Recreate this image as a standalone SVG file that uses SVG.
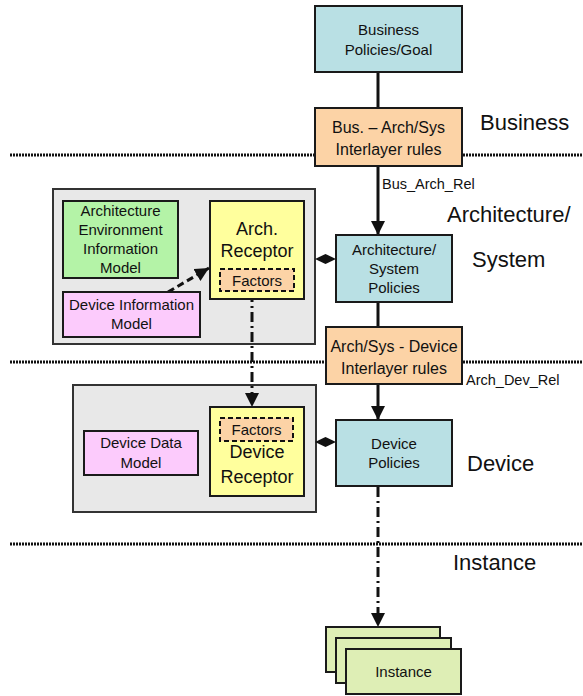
<svg xmlns="http://www.w3.org/2000/svg" width="583" height="696" viewBox="0 0 583 696">
  <style>
    text { font-family: "Liberation Sans", Arial, sans-serif; fill: #111; }
    .box { stroke: #1a1a1a; stroke-width: 2; }
    .policy { fill: #b9e0e4; }
    .rules { fill: #fcd3a6; }
    .env { fill: #b4f3a7; }
    .recep { fill: #ffff9d; }
    .pink { fill: #fccbfc; }
    .group { fill: #e8e8e8; stroke: #333; stroke-width: 2; }
    .factors { fill: #fcd3a6; stroke: #111; stroke-width: 2; stroke-dasharray: 5 3; }
    .inst { fill: #deeeb5; }
    .t15 { font-size: 15px; text-anchor: middle; }
    .t16 { font-size: 16px; text-anchor: middle; }
    .t18 { font-size: 18px; text-anchor: middle; }
    .layer { font-size: 22px; }
    .rel { font-size: 14.5px; }
    .sep { stroke: #111; stroke-width: 3; stroke-dasharray: 2 1; fill: none; }
    .solid { stroke: #111; stroke-width: 3; fill: none; }
    .dashdot { stroke: #111; stroke-width: 3; fill: none; stroke-dasharray: 10 4 2 4; }
    .dashed { stroke: #111; stroke-width: 3; fill: none; stroke-dasharray: 7 4; }
  </style>
  <defs>
    <marker id="arrow" markerUnits="userSpaceOnUse" markerWidth="14" markerHeight="16" refX="14" refY="7" orient="auto">
      <path d="M0,0 L14,7 L0,14 Z" fill="#111"/>
    </marker>
  </defs>

  <!-- layer separators -->
  <g id="separators">
    <line class="sep" x1="10" y1="155" x2="583" y2="155"/>
    <line class="sep" x1="10" y1="362" x2="583" y2="362"/>
    <line class="sep" x1="10" y1="544" x2="583" y2="544"/>
  </g>

  <!-- layer labels -->
  <g id="layer-labels">
    <text class="layer" x="480" y="130">Business</text>
    <text class="layer" x="447" y="222">Architecture/</text>
    <text class="layer" x="472" y="267">System</text>
    <text class="layer" x="467" y="471">Device</text>
    <text class="layer" x="453" y="570">Instance</text>
  </g>

  <!-- containers -->
  <g id="arch-group">
    <rect class="group" x="53" y="189" width="262" height="155"/>
  </g>
  <g id="device-group">
    <rect class="group" x="73" y="385" width="243" height="127"/>
  </g>

  <!-- connectors -->
  <g id="connectors">
    <line class="solid" x1="378" y1="72" x2="378" y2="108"/>
    <line class="solid" x1="378" y1="166" x2="378" y2="235" marker-end="url(#arrow)"/>
    <line class="solid" x1="378" y1="302" x2="378" y2="327"/>
    <line class="solid" x1="378" y1="384" x2="378" y2="420" marker-end="url(#arrow)"/>
    <line class="dashdot" x1="378" y1="487" x2="378" y2="627" marker-end="url(#arrow)"/>
    <line class="dashdot" x1="252" y1="292" x2="252" y2="407" marker-end="url(#arrow)"/>
    <line class="dashed" x1="168" y1="292" x2="209" y2="268" marker-end="url(#arrow)"/>
    <path d="M315,259 L325.5,254 L336,259 L325.5,264 Z" fill="#111"/>
    <path d="M315,442 L325.5,437 L336,442 L325.5,447 Z" fill="#111"/>
  </g>

  <g id="business-policies">
    <rect class="box policy" x="315" y="6" width="147" height="66"/>
    <text class="t15" x="388.5" y="35">Business</text>
    <text class="t15" x="388.5" y="55">Policies/Goal</text>
  </g>

  <g id="bus-arch-rules">
    <rect class="box rules" x="315" y="108" width="147" height="58"/>
    <text class="t16" x="388.5" y="133">Bus. – Arch/Sys</text>
    <text class="t16" x="388.5" y="155">Interlayer rules</text>
  </g>
  <text class="rel" x="382" y="189">Bus_Arch_Rel</text>

  <g id="arch-policies">
    <rect class="box policy" x="336" y="235" width="116" height="67"/>
    <text class="t15" x="394" y="255">Architecture/</text>
    <text class="t15" x="394" y="274">System</text>
    <text class="t15" x="394" y="293">Policies</text>
  </g>

  <g id="arch-dev-rules">
    <rect class="box rules" x="326" y="327" width="136" height="57"/>
    <text class="t16" x="394" y="352">Arch/Sys - Device</text>
    <text class="t16" x="394" y="374">Interlayer rules</text>
  </g>
  <text class="rel" x="466" y="385">Arch_Dev_Rel</text>

  <g id="device-policies">
    <rect class="box policy" x="336" y="420" width="116" height="66"/>
    <text class="t15" x="394" y="449">Device</text>
    <text class="t15" x="394" y="468">Policies</text>
  </g>

  <g id="arch-env-model">
    <rect class="box env" x="63" y="201" width="115" height="77"/>
    <text class="t15" x="120.5" y="216">Architecture</text>
    <text class="t15" x="120.5" y="235">Environment</text>
    <text class="t15" x="120.5" y="254">Information</text>
    <text class="t15" x="120.5" y="273">Model</text>
  </g>

  <g id="device-info-model">
    <rect class="box pink" x="63" y="292" width="137" height="45"/>
    <text class="t15" x="131.5" y="310">Device Information</text>
    <text class="t15" x="131.5" y="329">Model</text>
  </g>

  <g id="arch-receptor">
    <rect class="box recep" x="210" y="201" width="94" height="98"/>
    <text class="t18" x="257" y="235">Arch.</text>
    <text class="t18" x="257" y="257">Receptor</text>
    <rect class="factors" x="220" y="269" width="74" height="22"/>
    <text class="t15" x="257" y="286">Factors</text>
  </g>

  <g id="device-data-model">
    <rect class="box pink" x="84" y="431" width="114" height="44"/>
    <text class="t15" x="141" y="448">Device Data</text>
    <text class="t15" x="141" y="468">Model</text>
  </g>

  <g id="device-receptor">
    <rect class="box recep" x="210" y="407" width="94" height="89"/>
    <rect class="factors" x="220" y="418" width="73" height="23"/>
    <text class="t15" x="256.5" y="435">Factors</text>
    <text class="t18" x="257" y="458">Device</text>
    <text class="t18" x="257" y="483">Receptor</text>
  </g>

  <g id="instances">
    <rect class="box inst" x="326" y="627" width="114" height="45"/>
    <rect class="box inst" x="336" y="638" width="115" height="45"/>
    <rect class="box inst" x="346" y="649" width="115" height="45"/>
    <text class="t15" x="403.5" y="677">Instance</text>
  </g>
</svg>
